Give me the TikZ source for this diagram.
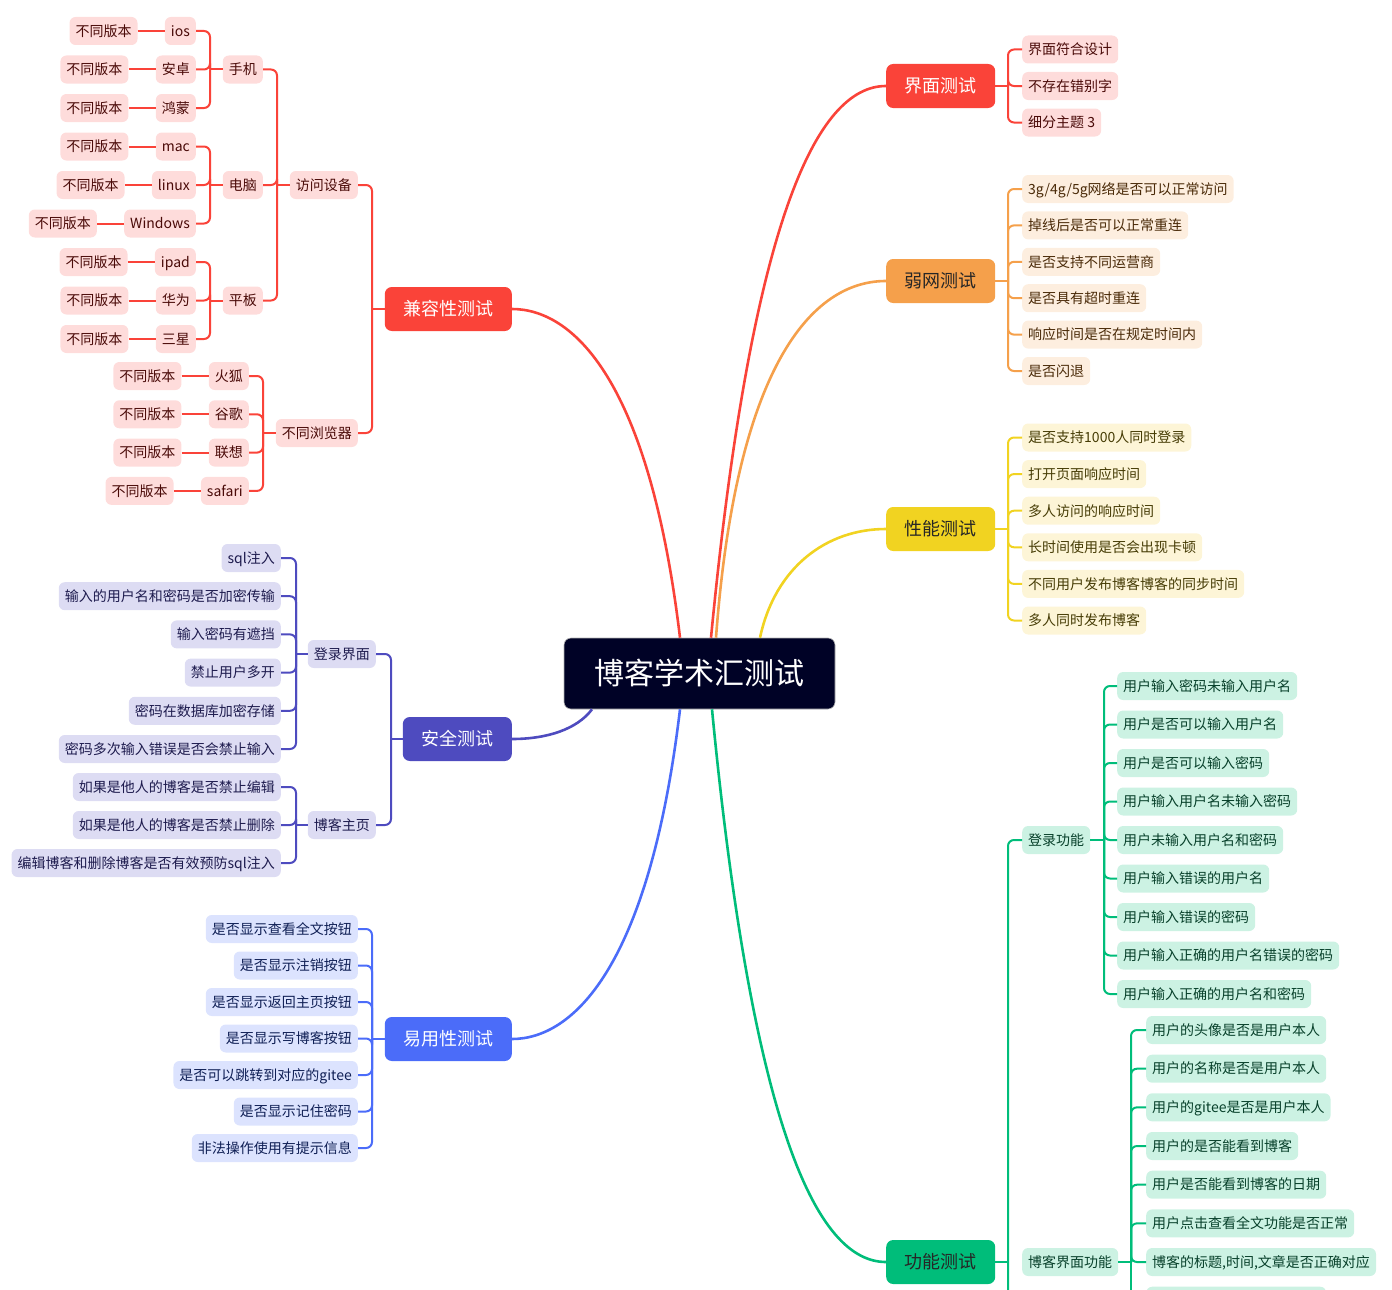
\documentclass[tikz,border=0pt]{standalone}
\usepackage{fontspec}
\setmainfont{Noto Sans CJK SC}
\usetikzlibrary{positioning}

\definecolor{HubBg}{HTML}{000226}
\definecolor{RedMain}{HTML}{FA4339}
\definecolor{RedLeaf}{HTML}{FEDCDB}
\definecolor{RedText}{HTML}{4A0A08}
\definecolor{OrgMain}{HTML}{F5A04B}
\definecolor{OrgLeaf}{HTML}{FDEEDF}
\definecolor{OrgText}{HTML}{4A2A08}
\definecolor{YelMain}{HTML}{F1D321}
\definecolor{YelLeaf}{HTML}{FDF5D7}
\definecolor{YelText}{HTML}{463C05}
\definecolor{PurMain}{HTML}{4E4BBF}
\definecolor{PurLeaf}{HTML}{DDDCF3}
\definecolor{PurText}{HTML}{1E1B4E}
\definecolor{BluMain}{HTML}{4B6CF9}
\definecolor{BluLeaf}{HTML}{DCE3FE}
\definecolor{BluText}{HTML}{0F1F55}
\definecolor{GrnMain}{HTML}{00BD7A}
\definecolor{GrnLeaf}{HTML}{CCF2E3}
\definecolor{GrnText}{HTML}{07402A}

\begin{document}
\begin{tikzpicture}[x=1pt, y=-1pt,
  hubbox/.style={fill=HubBg, draw=gray!60, line width=0.6pt, rounded corners=7pt,
                 text=white, minimum width=271pt, inner ysep=20.5pt,
                 text height=26.4pt, text depth=3.6pt, font=\fontsize{30}{30}\selectfont},
  topic/.style={rounded corners=7pt, inner xsep=18.5pt, inner ysep=13pt,
                text height=15.8pt, text depth=2.2pt, font=\fontsize{18}{18}\selectfont},
  leaf/.style={rounded corners=6pt, inner xsep=6pt, inner ysep=7pt,
               text height=12.3pt, text depth=1.7pt, font=\fontsize{14}{14}\selectfont},
  redleaf/.style={leaf, fill=RedLeaf, text=RedText},
  orgleaf/.style={leaf, fill=OrgLeaf, text=OrgText},
  yelleaf/.style={leaf, fill=YelLeaf, text=YelText},
  purleaf/.style={leaf, fill=PurLeaf, text=PurText},
  bluleaf/.style={leaf, fill=BluLeaf, text=BluText},
  grnleaf/.style={leaf, fill=GrnLeaf, text=GrnText},
  link/.style={line width=2pt, rounded corners=6pt},
  trunk/.style={line width=2.6pt}]
  \path[use as bounding box, clip] (0,0) rectangle (1392,1290);

  % centre and main topics
  \node[hubbox] (hub) at (699.5,673.5) {博客学术汇测试};
  \node[topic, fill=RedMain, text=white, anchor=east] (compat) at (512,309) {兼容性测试};
  \node[topic, fill=PurMain, text=white, anchor=east] (secure) at (512,739) {安全测试};
  \node[topic, fill=BluMain, text=white, anchor=east] (usable) at (512,1039) {易用性测试};
  \node[topic, fill=RedMain, text=white, anchor=west] (ui) at (886,86) {界面测试};
  \node[topic, fill=OrgMain, text=black!85, anchor=west] (weak) at (886,281) {弱网测试};
  \node[topic, fill=YelMain, text=black!85, anchor=west] (perf) at (886,529) {性能测试};
  \node[topic, fill=GrnMain, text=black!85, anchor=west] (func) at (886,1262) {功能测试};

  \draw[trunk, RedMain] ([xshift=-19.5pt]hub.north) .. controls +(-31,-260) and +(60,0) .. (compat.east);
  \draw[trunk, RedMain] ([xshift=11.5pt]hub.north) .. controls +(40,-415) and +(-70,0) .. (ui.west);
  \draw[trunk, OrgMain] ([xshift=16.5pt]hub.north) .. controls +(20,-270) and +(-75,0) .. (weak.west);
  \draw[trunk, YelMain] ([xshift=60.5pt]hub.north) .. controls +(15,-70) and +(-60,0) .. (perf.west);
  \draw[trunk, PurMain] ([xshift=-107.5pt]hub.south) .. controls +(-15,20) and +(35,0) .. (secure.east);
  \draw[trunk, BluMain] ([xshift=-19.5pt]hub.south) .. controls +(-31,260) and +(60,0) .. (usable.east);
  \draw[trunk, GrnMain] ([xshift=12.5pt]hub.south) .. controls +(40,415) and +(-70,0) .. (func.west);

  % compatibility
  \node[redleaf, anchor=east] (device) at (358,185) {访问设备};
  \node[redleaf, anchor=east] (browser) at (358,433) {不同浏览器};
  \draw[link, RedMain] (compat.west) -- (compat.west -| 372,0);
  \foreach \n in {device, browser}
    \draw[link, RedMain] (\n.east) -- (\n.east -| 372,0) -- (compat.west -| 372,0);

  \node[redleaf, anchor=east] (phone) at (263,69.5) {手机};
  \node[redleaf, anchor=east] (pc) at (263,185) {电脑};
  \node[redleaf, anchor=east] (pad) at (263,300.5) {平板};
  \draw[link, RedMain] (device.west) -- (device.west -| 277,0);
  \foreach \n in {phone, pc, pad}{
    \draw[link, RedMain] (\n.east) -- (\n.east -| 277,0) -- (device.west -| 277,0);
    \draw[link, RedMain] (\n.west) -- (\n.west -| 210,0);
  }
  \foreach \os/\dev [count=\i] in {ios/phone, 安卓/phone, 鸿蒙/phone, mac/pc, linux/pc,
      Windows/pc, ipad/pad, 华为/pad, 三星/pad}{
    \node[redleaf, anchor=east] (os\i) at (196, 31+38.5*\i-38.5) {\os};
    \node[redleaf, left=27pt of os\i] (ver\i) {不同版本};
    \draw[link, RedMain] (ver\i.east) -- (os\i.west);
    \draw[link, RedMain] (os\i.east) -- (os\i.east -| 210,0) -- (\dev.west -| 210,0);
  }

  \draw[link, RedMain] (browser.west) -- (browser.west -| 263,0);
  \foreach \br [count=\i] in {火狐, 谷歌, 联想, safari}{
    \node[redleaf, anchor=east] (br\i) at (249, 376+38.3*\i-38.3) {\br};
    \node[redleaf, left=27pt of br\i] (brv\i) {不同版本};
    \draw[link, RedMain] (brv\i.east) -- (br\i.west);
    \draw[link, RedMain] (br\i.east) -- (br\i.east -| 263,0) -- (browser.west -| 263,0);
  }

  % security
  \node[purleaf, anchor=east] (login) at (376,654) {登录界面};
  \node[purleaf, anchor=east] (home) at (376,825) {博客主页};
  \draw[link, PurMain] (secure.west) -- (secure.west -| 391,0);
  \foreach \n in {login, home}{
    \draw[link, PurMain] (\n.east) -- (\n.east -| 391,0) -- (secure.west -| 391,0);
    \draw[link, PurMain] (\n.west) -- (\n.west -| 296,0);
  }
  \foreach \txt [count=\i] in {sql注入, 输入的用户名和密码是否加密传输, 输入密码有遮挡,
      禁止用户多开, 密码在数据库加密存储, 密码多次输入错误是否会禁止输入}{
    \node[purleaf, anchor=east] (lg\i) at (281, 558+38.2*\i-38.2) {\txt};
    \draw[link, PurMain] (lg\i.east) -- (lg\i.east -| 296,0) -- (login.west -| 296,0);
  }
  \foreach \txt [count=\i] in {如果是他人的博客是否禁止编辑, 如果是他人的博客是否禁止删除,
      编辑博客和删除博客是否有效预防sql注入}{
    \node[purleaf, anchor=east] (hm\i) at (281, 787+38*\i-38) {\txt};
    \draw[link, PurMain] (hm\i.east) -- (hm\i.east -| 296,0) -- (home.west -| 296,0);
  }

  % usability
  \draw[link, BluMain] (usable.west) -- (usable.west -| 372,0);
  \foreach \txt [count=\i] in {是否显示查看全文按钮, 是否显示注销按钮, 是否显示返回主页按钮,
      是否显示写博客按钮, 是否可以跳转到对应的gitee, 是否显示记住密码, 非法操作使用有提示信息}{
    \node[bluleaf, anchor=east] (us\i) at (358, 929+36.5*\i-36.5) {\txt};
    \draw[link, BluMain] (us\i.east) -- (us\i.east -| 372,0) -- (usable.west -| 372,0);
  }

  % interface
  \draw[link, RedMain] (ui.east) -- (ui.east -| 1008,0);
  \foreach \txt [count=\i] in {界面符合设计, 不存在错别字, 细分主题 3}{
    \node[redleaf, anchor=west] (ui\i) at (1022, 49.5+36.5*\i-36.5) {\txt};
    \draw[link, RedMain] (ui\i.west) -- (ui\i.west -| 1008,0) -- (ui.east -| 1008,0);
  }

  % weak network
  \draw[link, OrgMain] (weak.east) -- (weak.east -| 1008,0);
  \foreach \txt [count=\i] in {3g/4g/5g网络是否可以正常访问, 掉线后是否可以正常重连,
      是否支持不同运营商, 是否具有超时重连, 响应时间是否在规定时间内, 是否闪退}{
    \node[orgleaf, anchor=west] (wk\i) at (1022, 189+36.4*\i-36.4) {\txt};
    \draw[link, OrgMain] (wk\i.west) -- (wk\i.west -| 1008,0) -- (weak.east -| 1008,0);
  }

  % performance
  \draw[link, YelMain] (perf.east) -- (perf.east -| 1008,0);
  \foreach \txt [count=\i] in {是否支持1000人同时登录, 打开页面响应时间, 多人访问的响应时间,
      长时间使用是否会出现卡顿, 不同用户发布博客博客的同步时间, 多人同时发布博客}{
    \node[yelleaf, anchor=west] (pf\i) at (1022, 437.5+36.6*\i-36.6) {\txt};
    \draw[link, YelMain] (pf\i.west) -- (pf\i.west -| 1008,0) -- (perf.east -| 1008,0);
  }

  % functions
  \node[grnleaf, anchor=west] (flogin) at (1022,840) {登录功能};
  \node[grnleaf, anchor=west] (fblog) at (1022,1262) {博客界面功能};
  \coordinate (funcmore) at (1008,1300);
  \coordinate (blogmore) at (1131,1300);
  \draw[link, GrnMain] (func.east) -- (func.east -| 1008,0);
  \draw[link, GrnMain] (flogin.west) -- (flogin.west -| 1008,0) -- (funcmore);
  \draw[link, GrnMain] (flogin.east) -- (flogin.east -| 1104,0);
  \draw[link, GrnMain] (fblog.east) -- (blogmore |- fblog.east);
  \draw[link, GrnMain] (blogmore |- fblog.east) -- (blogmore);
  \foreach \txt [count=\i] in {用户输入密码未输入用户名, 用户是否可以输入用户名, 用户是否可以输入密码,
      用户输入用户名未输入密码, 用户未输入用户名和密码, 用户输入错误的用户名, 用户输入错误的密码,
      用户输入正确的用户名错误的密码, 用户输入正确的用户名和密码}{
    \node[grnleaf, anchor=west] (lf\i) at (1117, 686+38.5*\i-38.5) {\txt};
    \draw[link, GrnMain] (lf\i.west) -- (lf\i.west -| 1104,0) -- (flogin.east -| 1104,0);
  }
  \foreach \txt [count=\i] in {用户的头像是否是用户本人, 用户的名称是否是用户本人, 用户的gitee是否是用户本人,
      用户的是否能看到博客, 用户是否能看到博客的日期, 用户点击查看全文功能是否正常,
      {博客的标题,时间,文章是否正确对应}}{
    \node[grnleaf, anchor=west] (bf\i) at (1146, 1030+38.67*\i-38.67) {\txt};
    \draw[link, GrnMain] (bf\i.west) -- (bf\i.west -| 1131,0) -- (fblog.east -| 1131,0);
  }
  \node[grnleaf, anchor=west, minimum width=180pt] (bf8) at (1146,1300.7) {};
  \draw[link, GrnMain] (bf8.west) -- (bf8.west -| 1131,0);
\end{tikzpicture}
\end{document}
